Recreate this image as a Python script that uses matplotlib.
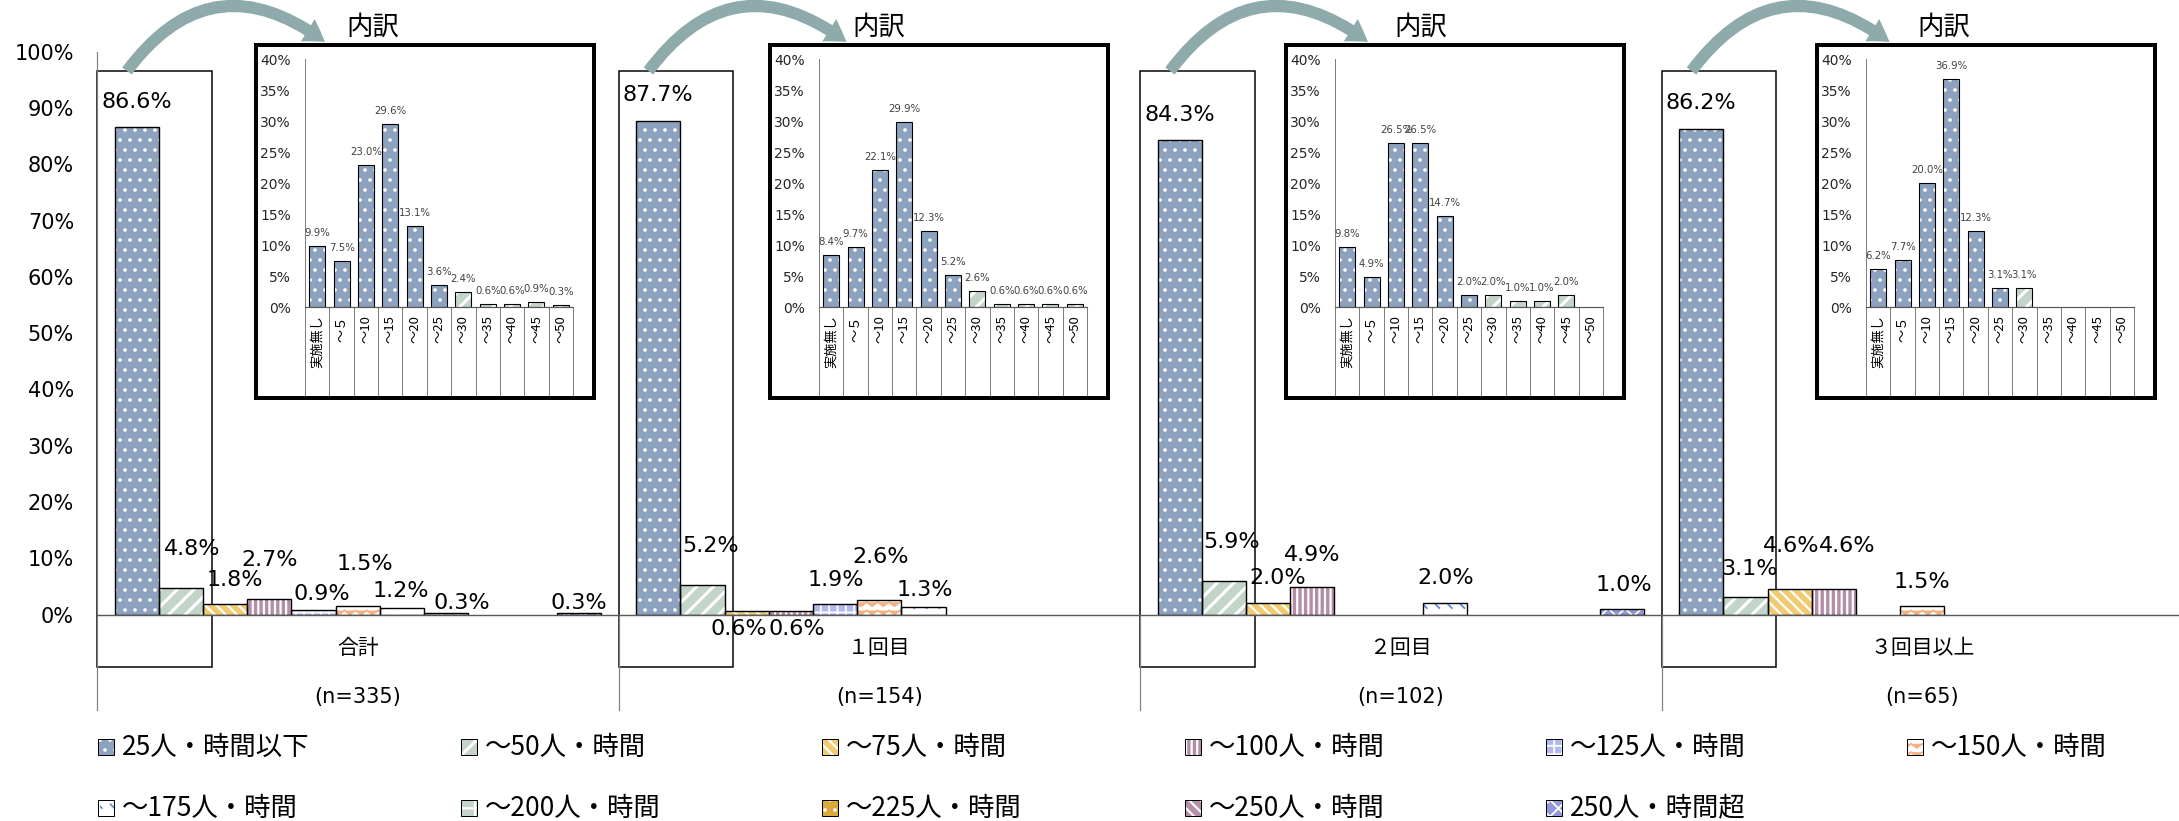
import warnings
import numpy as np
import matplotlib
matplotlib.use("Agg")
import matplotlib.pyplot as plt
import matplotlib.hatch as mhatch
from matplotlib.path import Path
from matplotlib.patches import Rectangle, FancyArrowPatch

warnings.filterwarnings("ignore")

W, H, DPI = 2179, 821, 100
PT = 72.0 / DPI  # points per pixel

plt.rcParams["font.family"] = ["DejaVu Sans", "Noto Sans CJK JP"]
plt.rcParams["hatch.linewidth"] = 1.3
JP = ["Noto Sans CJK JP", "DejaVu Sans"]
nan = np.nan

# ---------------- data ----------------
groups = ["合計", "１回目", "２回目", "３回目以上"]
group_n = ["(n=335)", "(n=154)", "(n=102)", "(n=65)"]
series = ["25人・時間以下", "～50人・時間", "～75人・時間", "～100人・時間",
          "～125人・時間", "～150人・時間", "～175人・時間", "～200人・時間",
          "～225人・時間", "～250人・時間", "250人・時間超"]

share_total = [86.6, 4.8, 1.8, 2.7, 0.9, 1.5, 1.2, 0.3, nan, nan, 0.3]
share_first = [87.7, 5.2, 0.6, 0.6, 1.9, 2.6, 1.3, nan, nan, nan, nan]
share_second = [84.3, 5.9, 2.0, 4.9, nan, nan, 2.0, nan, nan, nan, 1.0]
share_third = [86.2, 3.1, 4.6, 4.6, nan, 1.5, nan, nan, nan, nan, nan]

breakdown_cats = ["実施無し", "～５", "～10", "～15", "～20", "～25",
                  "～30", "～35", "～40", "～45", "～50"]
bd_total = [9.9, 7.5, 23.0, 29.6, 13.1, 3.6, 2.4, 0.6, 0.6, 0.9, 0.3]
bd_first = [8.4, 9.7, 22.1, 29.9, 12.3, 5.2, 2.6, 0.6, 0.6, 0.6, 0.6]
bd_second = [9.8, 4.9, 26.5, 26.5, 14.7, 2.0, 2.0, 1.0, 1.0, 2.0, nan]
bd_third = [6.2, 7.7, 20.0, 36.9, 12.3, 3.1, 3.1, nan, nan, nan, nan]

inset_title = "内訳"

main_values = [share_total, share_first, share_second, share_third]
inset_values = [bd_total, bd_first, bd_second, bd_third]


# ---------------- extra fill patterns ----------------
class ZigZagHatch(mhatch.HatchPatternBase):
    """Horizontal zigzag lines ('z')."""

    def __init__(self, hatch, density):
        self.num_lines = hatch.count("z") * 12
        self.num_seg = 18
        self.num_vertices = self.num_lines * (self.num_seg + 1)

    def set_vertices_and_codes(self, vertices, codes):
        n = self.num_seg + 1
        xs = np.linspace(0.0, 1.0, n)
        amp = 0.02
        sign = np.where(np.arange(n) % 2 == 0, 1.0, -1.0)
        for r in range(self.num_lines):
            yr = (r + 0.5) / self.num_lines
            sl = slice(r * n, (r + 1) * n)
            vertices[sl, 0] = xs
            vertices[sl, 1] = yr + amp * sign
            codes[sl] = Path.LINETO
            codes[r * n] = Path.MOVETO


class DashHatch(mhatch.HatchPatternBase):
    """Short, staggered back-slash dashes ('k')."""

    def __init__(self, hatch, density):
        self.grid = hatch.count("k") * 8
        self.num_vertices = self.grid * self.grid * 2

    def set_vertices_and_codes(self, vertices, codes):
        g = self.grid
        d = 0.018
        i = 0
        for r in range(g):
            cy = (r + 0.5) / g
            shift = 0.5 / g if r % 2 else 0.0
            for c in range(g):
                cx = ((c + 0.5) / g + shift) % 1.0
                vertices[i] = (cx - d, cy + d)
                vertices[i + 1] = (cx + d, cy - d)
                codes[i] = Path.MOVETO
                codes[i + 1] = Path.LINETO
                i += 2


class SparseDots(mhatch.Circles):
    """Staggered small filled dots ('p')."""
    size = 0.11
    filled = True

    def __init__(self, hatch, density):
        self.num_rows = hatch.count("p") * 10
        super().__init__(hatch, density)


def register_patterns():
    try:
        mhatch._hatch_types.extend([ZigZagHatch, DashHatch, SparseDots])
        Rectangle((0, 0), 1, 1, hatch="zkp")
        for h in ("z", "k", "p"):
            mhatch.get_path(h)
        return True
    except Exception:
        return False


custom_ok = register_patterns()
DOTS = "p" if custom_ok else ".."
ZIG = "z" if custom_ok else "xx"
DASH = "k" if custom_ok else "\\"

# ---------------- styles ----------------
# (face colour, hatch colour, hatch, hatch linewidth)
styles = [
    ("#8DA2BF", "white", DOTS, 1.0),
    ("#C3D5C9", "white", "//", 2.2),
    ("#F0CB72", "white", "\\\\\\", 1.6),
    ("#B48DA6", "white", "|||", 1.6),
    ("#B2B9EC", "white", "++", 1.3),
    ("white", "#F4B183", ZIG, 1.3),
    ("white", "#5F8FD3", DASH, 1.3),
    ("#C3D5C9", "white", "+", 1.6),
    ("#D9A93A", "white", DOTS, 1.0),
    ("#B48DA6", "white", "\\\\\\", 1.6),
    ("#9198D8", "white", "xx", 1.3),
]
# inset bars: up to ~25 take series 1 style, above take series 2 style
inset_style_idx = [0, 0, 0, 0, 0, 0, 1, 1, 1, 1, 1]

# label offsets in pixels (dx, dy from bar top) for each group
label_offsets = [
    [(0, 25), (11, 39), (10, 24), (0, 39), (8, 16), (7, 42), (-1, 17), (16, 10), None, None, (0, 10)],
    [(0, 26), (8, 39), (-8, -18), (6, -18), (1, 24), (1, 43), (1, 17), None, None, None, None],
    [(0, 25), (8, 39), (10, 25), (0, 32), None, None, (1, 25), None, None, None, (2, 24)],
    [(0, 26), (4, 28), (2, 43), (13, 43), None, (0, 24), None, None, None, None, None],
]

fig = plt.figure(figsize=(W / DPI, H / DPI), dpi=DPI)


def fx(px):
    return px / W


def fy(py):
    return 1 - py / H


def styled_bar(axis, x, h, width, style, lw, z):
    face, hcol, hatch, hlw = style
    with plt.rc_context({"hatch.linewidth": hlw}):
        axis.bar(x, h, width, color=face, edgecolor=hcol, hatch=hatch,
                 linewidth=0, zorder=z)
    axis.bar(x, h, width, facecolor="none", edgecolor="black",
             linewidth=lw, zorder=z + 0.1)


# ---------------- main chart ----------------
AX_L, GROUP_W = 97, 521.5
Y0, Y100 = 614.6, 51.7
ax = fig.add_axes([fx(AX_L), fy(Y0), 4 * GROUP_W / W, (Y0 - Y100) / H], zorder=0)
ax.set_xlim(0, 4)
ax.set_ylim(0, 100)
ax.patch.set_visible(False)
for sp in ax.spines.values():
    sp.set_visible(False)
PXY = (Y0 - Y100) / 100.0


def ydata(py):
    return (Y0 - py) / PXY


n_series = len(series)
slot = 1.0 / (n_series + 0.8)

# framed boxes around the first bar of every group
for g in range(len(groups)):
    ax.add_patch(Rectangle((g, ydata(667)), slot * 2.6, ydata(70.7) - ydata(667),
                           facecolor="white", edgecolor="black", linewidth=1.5 * PT,
                           zorder=1, clip_on=False))

for k in range(n_series):
    xs, hs = [], []
    for g in range(len(groups)):
        v = main_values[g][k]
        if not np.isnan(v):
            xs.append(g + slot * (0.4 + k + 0.5))
            hs.append(v)
    if xs:
        styled_bar(ax, xs, hs, slot, styles[k], 1.4 * PT, 3)

for g in range(len(groups)):
    for k in range(n_series):
        v = main_values[g][k]
        if np.isnan(v):
            continue
        dx, dy = label_offsets[g][k]
        ax.annotate(f"{v:.1f}%", (g + slot * (0.4 + k + 0.5), v),
                    xytext=(dx * PT, dy * PT), textcoords="offset points",
                    ha="center", va="center", fontsize=16, color="black",
                    zorder=6, annotation_clip=False)
    ax.text(g + 0.5, ydata(648), groups[g], ha="center", va="center",
            fontsize=15, family=JP, clip_on=False)
    ax.text(g + 0.5, ydata(697), group_n[g], ha="center", va="center",
            fontsize=15, clip_on=False)

# axis lines and group separators
ax.plot([0, 0], [0, 100], color="#808080", lw=1.2 * PT, clip_on=False, zorder=2)
for g in range(len(groups) + 1):
    ax.plot([g, g], [ydata(710), 0], color="#808080", lw=1.2 * PT,
            clip_on=False, zorder=2)
ax.plot([0, 4], [0, 0], color="#595959", lw=1.4 * PT, zorder=4, clip_on=False)

ax.set_xticks([])
ax.set_yticks(np.arange(0, 101, 10))
ax.set_yticklabels([f"{v}%" for v in range(0, 101, 10)])
ax.tick_params(axis="y", length=0, pad=23 * PT, labelsize=15)

# ---------------- breakdown insets ----------------
box_lefts = [254, 768, 1284, 1815]
title_x = [373, 879, 1421, 1944]
BOX_T, BOX_W, BOX_H = 43, 342, 357
IN_Y0, IN_Y40, IN_BOTTOM = 307.3, 59.5, 395
in_px_per = (IN_Y0 - IN_Y40) / 40.0
cell_bottom = -(IN_BOTTOM - IN_Y0) / in_px_per

for i, left in enumerate(box_lefts):
    fig.add_artist(Rectangle((fx(left + 2), fy(BOX_T + BOX_H - 2)),
                             (BOX_W - 4) / W, (BOX_H - 4) / H,
                             transform=fig.transFigure, facecolor="white",
                             edgecolor="black", linewidth=4 * PT, zorder=2))
    ia = fig.add_axes([fx(left + 51), fy(IN_Y0), 268 / W, (IN_Y0 - IN_Y40) / H],
                      zorder=5)
    ia.set_xlim(-0.5, len(breakdown_cats) - 0.5)
    ia.set_ylim(0, 40)
    ia.patch.set_visible(False)
    for sp in ia.spines.values():
        sp.set_visible(False)
    vals = inset_values[i]
    for c, v in enumerate(vals):
        if np.isnan(v):
            continue
        styled_bar(ia, [c], [v], 0.66, styles[inset_style_idx[c]], 1.1 * PT, 3)
        ia.annotate(f"{v:.1f}%", (c, v), xytext=(0, 13 * PT),
                    textcoords="offset points", ha="center", va="center",
                    fontsize=7.3, color="#404040", annotation_clip=False)
    for c, cat in enumerate(breakdown_cats):
        ia.annotate(cat, (c, 0), xytext=(0, -8 * PT), textcoords="offset points",
                    rotation=90, ha="center", va="top", fontsize=9.5,
                    family=JP, color="black", annotation_clip=False)
    for b in range(len(breakdown_cats) + 1):
        ia.plot([b - 0.5, b - 0.5], [cell_bottom, 0], color="#7F7F7F",
                lw=1.0 * PT, clip_on=False, zorder=2)
    ia.plot([-0.5, -0.5], [0, 40], color="#7F7F7F", lw=1.0 * PT,
            clip_on=False, zorder=2)
    ia.plot([-0.5, len(breakdown_cats) - 0.5], [0, 0], color="#595959",
            lw=1.2 * PT, clip_on=False, zorder=4)
    ia.set_xticks([])
    ia.set_yticks(np.arange(0, 41, 5))
    ia.set_yticklabels([f"{v}%" for v in range(0, 41, 5)])
    ia.tick_params(axis="y", length=0, pad=14 * PT, labelsize=10,
                   labelcolor="#262626")

    fig.text(fx(title_x[i]), fy(27), inset_title, ha="center", va="center",
             fontsize=19, family=JP)

    shift = i * GROUP_W
    arrow = FancyArrowPatch(
        (fx(127 + shift), fy(71)), (fx(325 + shift), fy(42)),
        transform=fig.transFigure, connectionstyle="arc3,rad=-0.5",
        arrowstyle="simple,head_length=1.5,head_width=1.9,tail_width=0.85",
        mutation_scale=10, facecolor="#8EAAAB", edgecolor="none",
        shrinkA=0, shrinkB=0, zorder=3)
    fig.add_artist(arrow)

# ---------------- legend ----------------
leg_cols = [98, 461, 822, 1185, 1546, 1907]
leg_rows = [747, 808]
for k, name in enumerate(series):
    x = leg_cols[k % 6]
    y = leg_rows[k // 6]
    face, hcol, hatch, hlw = styles[k]
    with plt.rc_context({"hatch.linewidth": hlw}):
        fig.add_artist(Rectangle((fx(x), fy(y + 8)), 16 / W, 16 / H,
                                 transform=fig.transFigure, facecolor=face,
                                 edgecolor=hcol, hatch=hatch, linewidth=0,
                                 zorder=4))
    fig.add_artist(Rectangle((fx(x), fy(y + 8)), 16 / W, 16 / H,
                             transform=fig.transFigure, facecolor="none",
                             edgecolor="black", linewidth=1.0 * PT, zorder=4.1))
    fig.text(fx(x + 24), fy(y), name, ha="left", va="center",
             fontsize=19, family=JP)

fig.savefig("out.png", dpi=DPI, facecolor="white")
